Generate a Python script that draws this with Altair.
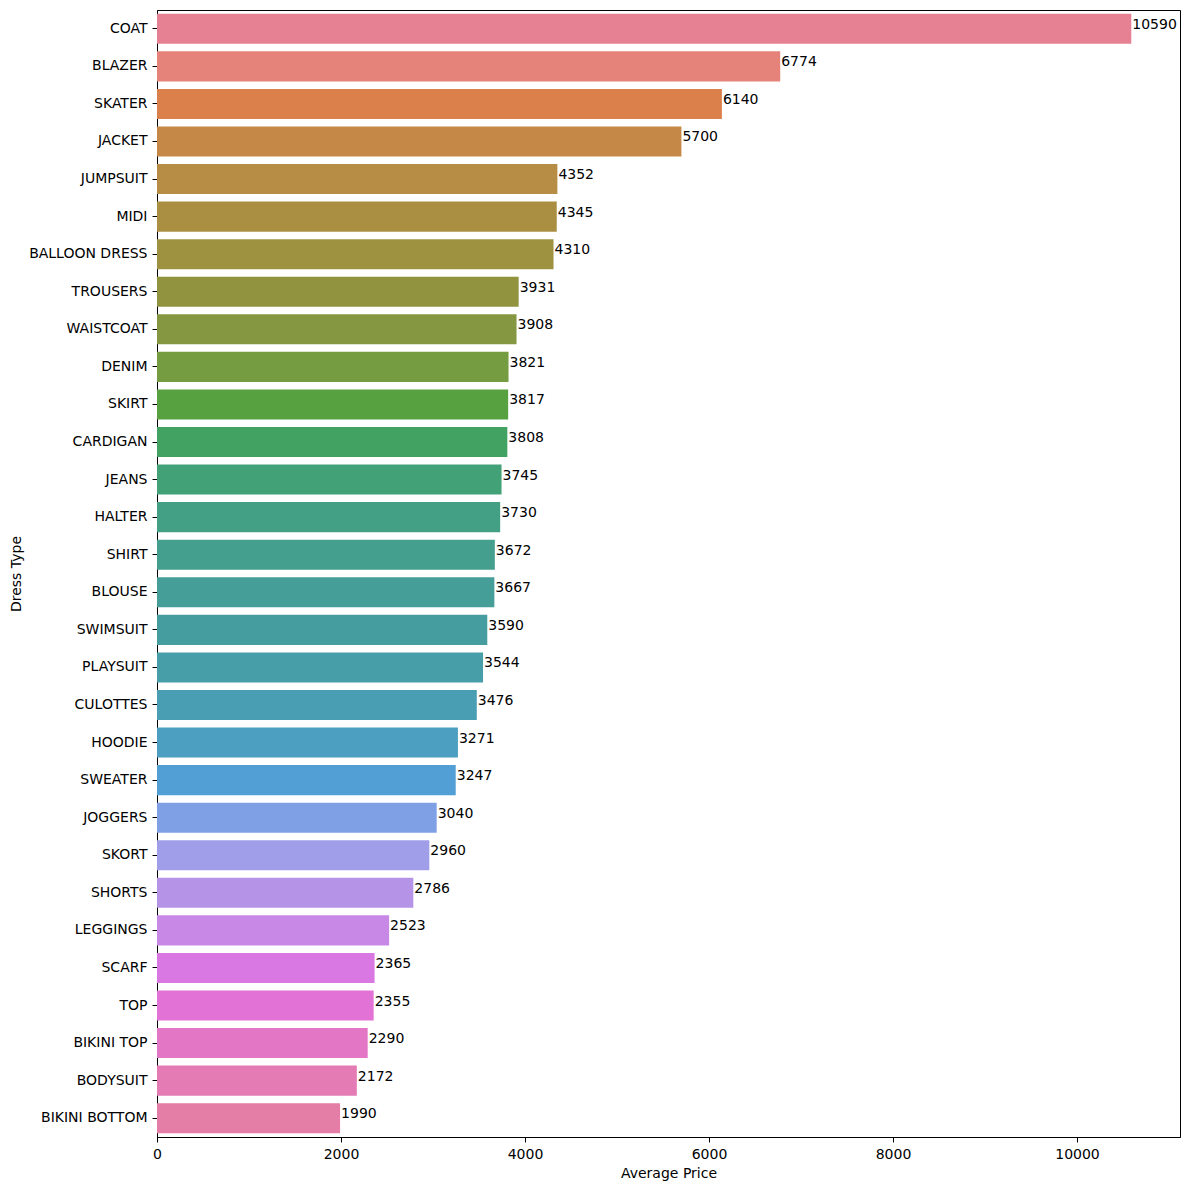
import colorsys
import math

import altair as alt
import pandas as pd

dress_types = [
    "COAT", "BLAZER", "SKATER", "JACKET", "JUMPSUIT", "MIDI", "BALLOON DRESS",
    "TROUSERS", "WAISTCOAT", "DENIM", "SKIRT", "CARDIGAN", "JEANS", "HALTER",
    "SHIRT", "BLOUSE", "SWIMSUIT", "PLAYSUIT", "CULOTTES", "HOODIE", "SWEATER",
    "JOGGERS", "SKORT", "SHORTS", "LEGGINGS", "SCARF", "TOP", "BIKINI TOP",
    "BODYSUIT", "BIKINI BOTTOM",
]
avg_price = [
    10590, 6774, 6140, 5700, 4352, 4345, 4310, 3931, 3908, 3821, 3817, 3808,
    3745, 3730, 3672, 3667, 3590, 3544, 3476, 3271, 3247, 3040, 2960, 2786,
    2523, 2365, 2355, 2290, 2172, 1990,
]
x_ticks = [0, 2000, 4000, 6000, 8000, 10000]


# husl palette like seaborn's, desaturated to 0.75 as barplot does
M = [[3.2406, -1.5372, -0.4986],
     [-0.9689, 1.8758, 0.0415],
     [0.0557, -0.2040, 1.0570]]
REF_U, REF_V = 0.19784, 0.46834


def max_chroma(L, H):
    hrad = math.radians(H)
    sin_h, cos_h = math.sin(hrad), math.cos(hrad)
    sub1 = ((L + 16) ** 3.0) / 1560896.0
    sub2 = sub1 if sub1 > 0.008856 else L / 903.3
    best = float("inf")
    for m1, m2, m3 in M:
        top = (0.99915 * m1 + 1.05122 * m2 + 1.14460 * m3) * sub2
        rbottom = 0.86330 * m3 - 0.17266 * m2
        lbottom = 0.12949 * m3 - 0.38848 * m1
        bottom = (rbottom * sin_h + lbottom * cos_h) * sub2
        for t in (0.0, 1.0):
            c = L * (top - 1.05122 * t) / (bottom + 0.17266 * sin_h * t)
            if 0.0 < c < best:
                best = c
    return best


def husl_to_rgb(H, S, L):
    C = max_chroma(L, H) / 100.0 * S
    U = math.cos(math.radians(H)) * C
    V = math.sin(math.radians(H)) * C
    t = (L + 16) / 116
    Y = t ** 3 if t ** 3 > 216 / 24389 else (116 * t - 16) / (24389 / 27)
    vu = U / (13 * L) + REF_U
    vv = V / (13 * L) + REF_V
    X = -(9 * Y * vu) / ((vu - 4) * vv - vu * vv)
    Z = (9 * Y - 15 * vv * Y - vv * X) / (3 * vv)
    out = []
    for row in M:
        c = row[0] * X + row[1] * Y + row[2] * Z
        c = 12.92 * c if c <= 0.0031308 else 1.055 * c ** (1 / 2.4) - 0.055
        out.append(min(max(c, 0.0), 1.0))
    return out


def palette(n):
    colors = []
    for i in range(n):
        h = ((i / n + 0.01) % 1) * 359
        r, g, b = husl_to_rgb(h, 0.9 * 99, 0.65 * 99)
        hh, ll, ss = colorsys.rgb_to_hls(r, g, b)
        r, g, b = colorsys.hls_to_rgb(hh, ll, ss * 0.75)
        colors.append("#%02x%02x%02x" % (round(r * 255), round(g * 255), round(b * 255)))
    return colors


df = pd.DataFrame({"dress": dress_types, "price": avg_price})
colors = palette(len(dress_types))

y_enc = alt.Y("dress:N", sort=dress_types, title="Dress Type",
              scale=alt.Scale(paddingInner=0.2, paddingOuter=0.1),
              axis=alt.Axis(titlePadding=5))

bars = alt.Chart(df).mark_bar().encode(
    x=alt.X("price:Q", title="Average Price",
            scale=alt.Scale(domain=[0, 11119.5], nice=False, zero=True),
            axis=alt.Axis(values=x_ticks, format="d", labelFlush=False,
                          titlePadding=5)),
    y=y_enc,
    color=alt.Color("dress:N", sort=dress_types,
                    scale=alt.Scale(domain=dress_types, range=colors),
                    legend=None),
)

labels = alt.Chart(df).mark_text(
    align="left", baseline="alphabetic", dx=1, fontSize=14,
    font="DejaVu Sans", color="black",
).encode(
    x="price:Q",
    y=alt.Y("dress:N", sort=dress_types),
    text="price:Q",
)

chart = (bars + labels).properties(
    width=1023,
    height=1127,
    autosize="none",
    padding={"left": 149, "top": 2, "right": 1, "bottom": 45},
).configure_view(
    stroke="black", strokeWidth=1,
).configure_axis(
    grid=False,
    domainColor="black",
    tickColor="black",
    tickSize=5,
    labelPadding=5,
    labelFont="DejaVu Sans",
    labelFontSize=14,
    labelColor="black",
    titleFont="DejaVu Sans",
    titleFontSize=14,
    titleFontWeight="normal",
    titleColor="black",
)

chart.save("out.html", embed_options={"renderer": "svg", "actions": False})
